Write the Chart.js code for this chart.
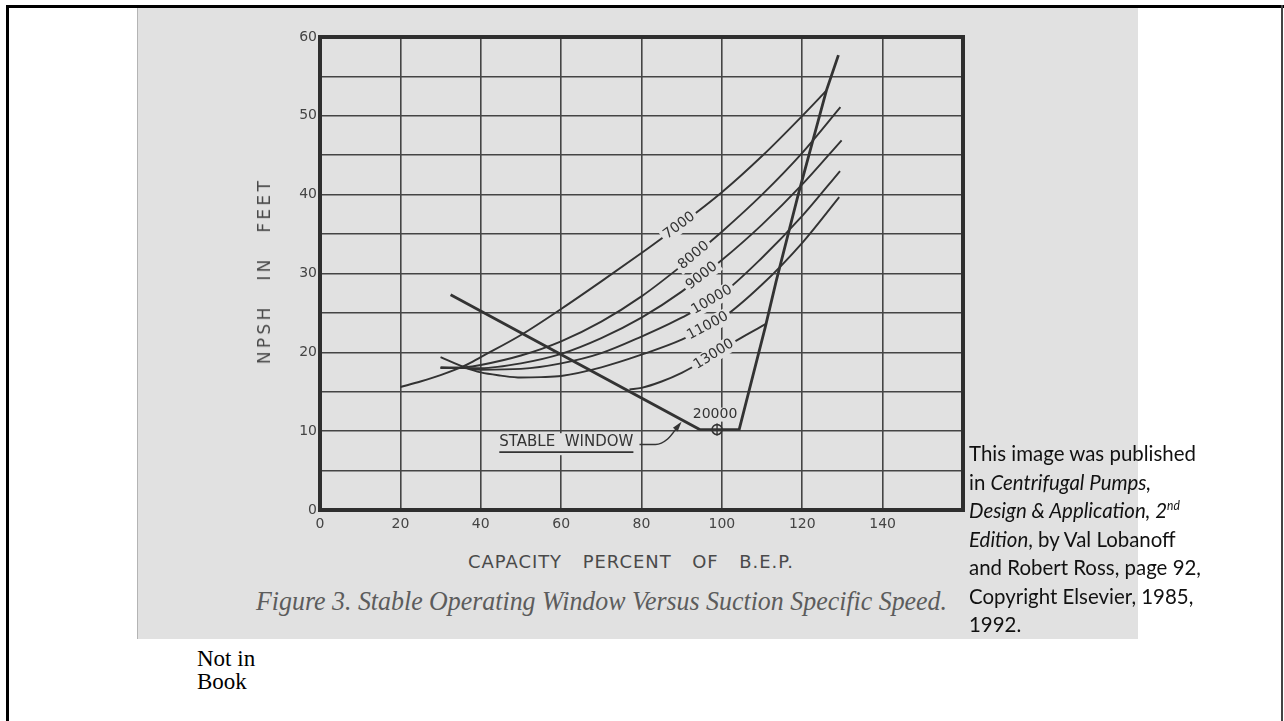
<!DOCTYPE html>
<html lang="en">
<head>
<meta charset="UTF-8" />
<title>Stable Operating Window Versus Suction Specific Speed</title>
<script src="https://cdn.jsdelivr.net/npm/chart.js@4.4.0/dist/chart.umd.min.js"></script>
<style>
  body        { margin:0; width:1284px; height:721px; background:#fff; position:relative; overflow:hidden; }
  .line-top   { position:absolute; left:6px; top:5px; width:1278px; height:3px; background:#000; }
  .line-left  { position:absolute; left:6px; top:5px; width:3px; height:716px; background:#000; }
  .line-right { position:absolute; left:1281px; top:5px; width:2px; height:716px; background:#444; }
  .paper      { position:absolute; left:137px; top:8px; width:1000px; height:631px; background:#e1e1e1;
                border-left:1px solid #b4b4b4; }
  #wrap       { position:absolute; left:270px; top:22px; width:710px; height:520px; }

  .ytitle     { position:absolute; left:264px; top:271px; font:17px "DejaVu Sans"; color:#4a4a4a;
                letter-spacing:3.3px; word-spacing:15px; white-space:nowrap;
                transform:translate(-50%,-50%) rotate(-90deg); }
  .xtitle     { position:absolute; left:468px; top:551px; font:18px "DejaVu Sans"; color:#4a4a4a;
                letter-spacing:1px; word-spacing:14px; white-space:nowrap; transform-origin:0 0; }
  .caption    { position:absolute; left:256px; top:585px; font:italic 28px "Liberation Serif"; color:#5c5c5c;
                white-space:nowrap; transform-origin:0 0; }
  .source     { position:absolute; left:969px; top:439px; font:22px Lato; line-height:28.5px; color:#111;
                white-space:nowrap; transform-origin:0 0; }
  .source sup { font-size:13px; line-height:0; }
  .note       { position:absolute; left:197px; top:647px; font:23px "Liberation Serif"; line-height:23px; color:#000; }
</style>
</head>
<body>
  <div class="line-top"></div>
  <div class="line-left"></div>
  <div class="line-right"></div>
  <div class="paper"></div>

  <div id="wrap"><canvas id="chart"></canvas></div>

  <div class="ytitle">NPSH IN FEET</div>
  <div class="xtitle" id="xtitle">CAPACITY PERCENT OF B.E.P.</div>
  <div class="caption" id="caption">Figure 3. Stable Operating Window Versus Suction Specific Speed.</div>
  <div class="source" id="source">This image was published<br>in <i>Centrifugal Pumps,</i><br><i>Design &amp; Application, 2<sup>nd</sup></i><br><i>Edition</i>, by Val Lobanoff<br>and Robert Ross, page 92,<br>Copyright Elsevier, 1985,<br>1992.</div>
  <div class="note">Not in<br>Book</div>

<script>
  /* ── data (capacity % of BEP  vs  NPSH ft) ── */
  const capacityTicks = [0, 20, 40, 60, 80, 100, 120, 140];
  const npshTicks     = [0, 10, 20, 30, 40, 50, 60];

  const speeds = ['7000', '8000', '9000', '10000', '11000', '13000'];

  const q7000  = [20, 25, 30, 36, 40, 50, 60, 70, 80, 90, 100, 110, 120, 126];
  const h7000  = [15.6, 16.3, 17.1, 18.3, 19.4, 22.2, 25.5, 29.0, 32.6, 36.3, 40.3, 44.9, 50.0, 53.2];
  const q8000  = [30, 36, 40, 50, 60, 70, 80, 90, 100, 110, 120, 129.5];
  const h8000  = [18.0, 18.1, 18.4, 19.6, 21.4, 23.9, 27.1, 31.0, 35.3, 40.0, 45.3, 51.1];
  const q9000  = [30, 36, 40, 50, 60, 70, 80, 90, 100, 110, 120, 129.8];
  const h9000  = [18.0, 18.0, 18.0, 18.6, 19.8, 21.8, 24.4, 27.7, 31.7, 36.2, 41.3, 46.9];
  const q10000 = [30, 36, 40, 50, 60, 70, 80, 90, 100, 110, 120, 129.4];
  const h10000 = [18.1, 18.0, 17.8, 17.9, 18.6, 19.9, 22.0, 24.4, 27.4, 32.0, 37.3, 43.0];
  const q11000 = [30, 36, 40, 45, 50, 55, 60, 70, 80, 90, 100, 110, 120, 129.2];
  const h11000 = [19.4, 18.1, 17.45, 17.05, 16.8, 16.85, 17.0, 18.1, 19.7, 21.6, 24.3, 28.6, 33.9, 39.7];
  const q13000 = [77, 80, 85, 90, 95, 100, 105, 111];
  const h13000 = [15.3, 15.5, 16.3, 17.4, 18.8, 20.4, 21.9, 23.6];

  // where each speed label sits along its curve (capacity %)
  const labelQ = [89.4, 93, 95, 97.5, 96.5, 98];

  // stable window boundary
  const windowQ = [32.5, 94.5, 104.3, 110.8, 113.5, 119, 126, 129];
  const windowH = [27.3, 10.2, 10.2, 23.2, 29.0, 40.0, 53.2, 57.7];

  // 20000 point and the "STABLE WINDOW" callout
  const pointQ  = [98.8];
  const pointH  = [10.2];
  const leaderQ = [79.5, 83.5, 86.5, 89.5];
  const leaderH = [8.3, 8.3, 9.0, 10.9];
  const calloutText = 'STABLE  WINDOW';
  const calloutQ = 61.3, calloutH = 8.6;
  const pointText = '20000';
  const pointTextQ = 98.3, pointTextH = 12.1;

  const curveQ = [q7000, q8000, q9000, q10000, q11000, q13000];
  const curveH = [h7000, h8000, h9000, h10000, h11000, h13000];

  const PAPER = '#e1e1e1';
  const INK   = '#333333';
  const pts   = (qs, hs) => qs.map((q, i) => ({ x:q, y:hs[i] }));

  function curveAt(qs, hs, q){
    for(let i = 1; i < qs.length; i++){
      if(q <= qs[i]){
        const t = (q - qs[i-1]) / (qs[i] - qs[i-1]);
        return hs[i-1] + t * (hs[i] - hs[i-1]);
      }
    }
    return hs[hs.length - 1];
  }

  /* labels on curves, callout text, arrowhead, heavy frame */
  const annotate = {
    id:'annotate',
    afterDatasetsDraw(chart){
      const { ctx, scales:{ x, y } } = chart;
      ctx.save();
      ctx.font = '14px "DejaVu Sans"';
      ctx.textAlign = 'center';
      ctx.textBaseline = 'middle';

      speeds.forEach((s, i) => {
        const qs = curveQ[i], hs = curveH[i], q = labelQ[i];
        const px = x.getPixelForValue(q), py = y.getPixelForValue(curveAt(qs, hs, q));
        const ax = x.getPixelForValue(q - 2), ay = y.getPixelForValue(curveAt(qs, hs, q - 2));
        const bx = x.getPixelForValue(q + 2), by = y.getPixelForValue(curveAt(qs, hs, q + 2));
        const w = ctx.measureText(s).width;
        ctx.save();
        ctx.translate(px, py);
        ctx.rotate(Math.atan2(by - ay, bx - ax));
        ctx.fillStyle = PAPER;
        ctx.fillRect(-w/2 - 3, -8, w + 6, 16);
        ctx.fillStyle = INK;
        ctx.fillText(s, 0, 0);
        ctx.restore();
      });

      // 20000
      let tx = x.getPixelForValue(pointTextQ), ty = y.getPixelForValue(pointTextH);
      let w = ctx.measureText(pointText).width;
      ctx.fillStyle = PAPER;
      ctx.fillRect(tx - w/2 - 2, ty - 7, w + 4, 14);
      ctx.fillStyle = INK;
      ctx.fillText(pointText, tx, ty);

      // STABLE WINDOW with underline
      tx = x.getPixelForValue(calloutQ); ty = y.getPixelForValue(calloutH);
      ctx.font = '15px "DejaVu Sans"';
      w = ctx.measureText(calloutText).width;
      ctx.fillStyle = PAPER;
      ctx.fillRect(tx - w/2 - 3, ty - 9, w + 6, 22);
      ctx.fillStyle = INK;
      ctx.fillText(calloutText, tx, ty);
      ctx.strokeStyle = INK;
      ctx.lineWidth = 1.8;
      ctx.beginPath();
      ctx.moveTo(tx - w/2, ty + 10);
      ctx.lineTo(tx + w/2, ty + 10);
      ctx.stroke();

      // arrowhead at end of leader
      const n = leaderQ.length;
      const ex = x.getPixelForValue(leaderQ[n-1]), ey = y.getPixelForValue(leaderH[n-1]);
      const sx = x.getPixelForValue(leaderQ[n-2]), sy = y.getPixelForValue(leaderH[n-2]);
      const a = Math.atan2(ey - sy, ex - sx);
      ctx.fillStyle = INK;
      ctx.beginPath();
      ctx.moveTo(ex + 3*Math.cos(a), ey + 3*Math.sin(a));
      ctx.lineTo(ex - 7*Math.cos(a) + 3*Math.sin(a), ey - 7*Math.sin(a) - 3*Math.cos(a));
      ctx.lineTo(ex - 7*Math.cos(a) - 3*Math.sin(a), ey - 7*Math.sin(a) + 3*Math.cos(a));
      ctx.closePath();
      ctx.fill();

      // heavy frame
      const ca = chart.chartArea;
      ctx.strokeStyle = '#2e2e2e';
      ctx.lineWidth = 4;
      ctx.strokeRect(ca.left, ca.top, ca.right - ca.left, ca.bottom - ca.top);
      ctx.restore();
    }
  };

  const curveStyle = { borderColor:INK, borderWidth:1.9, pointRadius:0, fill:false, cubicInterpolationMode:'monotone' };

  const datasets = curveQ.map((qs, i) => ({ ...curveStyle, label:speeds[i], data:pts(qs, curveH[i]) }));
  datasets.push({ label:'window', data:pts(windowQ, windowH), borderColor:INK, borderWidth:2.8,
                  pointRadius:0, tension:0, fill:false });
  datasets.push({ label:'leader', data:pts(leaderQ, leaderH), borderColor:INK, borderWidth:1.5,
                  pointRadius:0, cubicInterpolationMode:'monotone', fill:false });
  datasets.push({ label:'20000', data:pts(pointQ, pointH), showLine:false, pointStyle:'circle',
                  pointRadius:5, pointBorderWidth:1.6, pointBorderColor:INK, pointBackgroundColor:'rgba(0,0,0,0)' });
  datasets.push({ label:'20000x', data:pts(pointQ, pointH), showLine:false, pointStyle:'cross',
                  pointRadius:6, pointBorderWidth:1.4, pointBorderColor:INK });

  new Chart(document.getElementById('chart'), {
    type:'line',
    data:{ datasets },
    options:{
      responsive:true,
      maintainAspectRatio:false,
      animation:false,
      layout:{ padding:{ top:15, right:17, left:0, bottom:0 } },
      plugins:{ legend:{ display:false }, tooltip:{ enabled:false } },
      scales:{
        x:{
          type:'linear', min:0, max:160,
          border:{ display:false },
          grid:{ color:'#444', lineWidth:1.6, drawTicks:false },
          ticks:{ stepSize:20, padding:6, color:'#444', font:{ family:'DejaVu Sans', size:14 },
                  callback:v => capacityTicks.includes(v) ? String(v) : '' },
          afterFit:s => { s.height = 32; }
        },
        y:{
          type:'linear', min:0, max:60,
          border:{ display:false },
          grid:{ color:'#444', lineWidth:1.6, drawTicks:false },
          ticks:{ stepSize:5, padding:3, color:'#444', font:{ family:'DejaVu Sans', size:14 },
                  callback:v => npshTicks.includes(v) ? String(v) : '' },
          afterFit:s => { s.width = 50; }
        }
      }
    },
    plugins:[annotate]
  });

  /* stretch the lettering to the widths in the figure */
  function fitWidth(id, target){
    const el = document.getElementById(id);
    el.style.transform = 'scaleX(' + (target / el.getBoundingClientRect().width) + ')';
  }
  fitWidth('xtitle', 326);
  fitWidth('caption', 691);
  fitWidth('source', 232);
</script>
</body>
</html>
